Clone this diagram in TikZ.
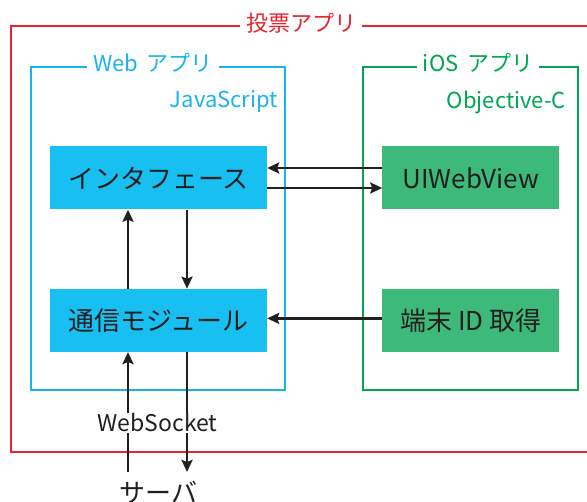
\documentclass[tikz,border=0pt]{standalone}
\usepackage{fontspec}
\setmainfont{Noto Sans CJK JP}
\usetikzlibrary{%
	positioning,
	calc,
	arrows.meta
}
\definecolor{tohyored}{HTML}{E8242C}
\definecolor{webblue}{HTML}{1BB4EA}
\definecolor{iosgreen}{HTML}{00A651}
\definecolor{webfill}{HTML}{17C0F1}
\definecolor{iosfill}{HTML}{3DB97A}
\definecolor{ink}{HTML}{231F20}

\begin{document}
\begin{tikzpicture}[x=1pt,y=1pt,
		SModule/.style={shape=rectangle,fill=webfill,minimum width=217pt,minimum height=63pt,inner sep=0pt,text=ink,font=\fontsize{26}{26}\selectfont},
		SNative/.style={SModule,fill=iosfill,minimum width=177pt},
		title/.style={fill=white,inner xsep=6pt,inner ysep=1pt,font=\fontsize{22}{22}\selectfont},
		lang/.style={anchor=east,inner sep=0pt,font=\fontsize{22}{22}\selectfont},
		flow/.style={draw=ink,line width=2.7pt,-{Stealth[length=12pt,width=11pt,inset=2pt]}}
	]
	\clip (0,0) rectangle (587,502);
	
		%frames
		\draw [tohyored,line width=1.8pt] (11,50) rectangle (600,476);
		\node(tohyo-title) [title,text=tohyored] at (301,479) {投票アプリ};
		
		\draw [webblue,line width=1.8pt] (31,112) rectangle (285,435);
		\node(web-title) [title,text=webblue] at (153,439) {Web\, アプリ};
		\node(web-lang) [lang,text=webblue] at (278,400) {JavaScript};
		
		\draw [iosgreen,line width=1.8pt] (363,112) rectangle (578,435);
		\node(ios-title) [title,text=iosgreen] at (478,439) {iOS\, アプリ};
		\node(ios-lang) [lang,text=iosgreen] at (566,400) {Objective-C};
		
		%modules
		\node(interface) [SModule] at (158.5,324) {インタフェース};
		\node(module) [SModule, below=79pt of interface] {通信モジュール};
		\node(uiwebview) [SNative, right=115pt of interface] {UIWebView};
		\node(udid) [SNative, below=79pt of uiwebview] {端末 ID 取得};
		\node(server) [anchor=north,inner xsep=0pt,inner ysep=9pt,text=ink,font=\fontsize{26}{26}\selectfont] at (158.5,30) {サーバ};
		
		\draw [flow] ([yshift=10pt]uiwebview.west) -- ([yshift=10pt]interface.east);
		\draw [flow] ([yshift=-10pt]interface.east) -- ([yshift=-10pt]uiwebview.west);
		\draw [flow] ([xshift=-30.5pt]module.north) -- ([xshift=-30.5pt]interface.south);
		\draw [flow] ([xshift=28.5pt]interface.south) -- ([xshift=28.5pt]module.north);
		\draw [flow] ([yshift=2pt]udid.west) -- ([yshift=2pt]module.east);
		\draw [flow] ([xshift=-30.5pt]server.north) -- ([xshift=-30.5pt]module.south);
		\draw [flow] ([xshift=28.5pt]module.south) -- ([xshift=28.5pt]server.north);
		
		\node(websocket) [fill=white,inner xsep=2pt,inner ysep=1pt,text=ink,font=\fontsize{23}{23}\selectfont] at (157.5,79) {WebSocket};
		
	\end{tikzpicture}
\end{document}
